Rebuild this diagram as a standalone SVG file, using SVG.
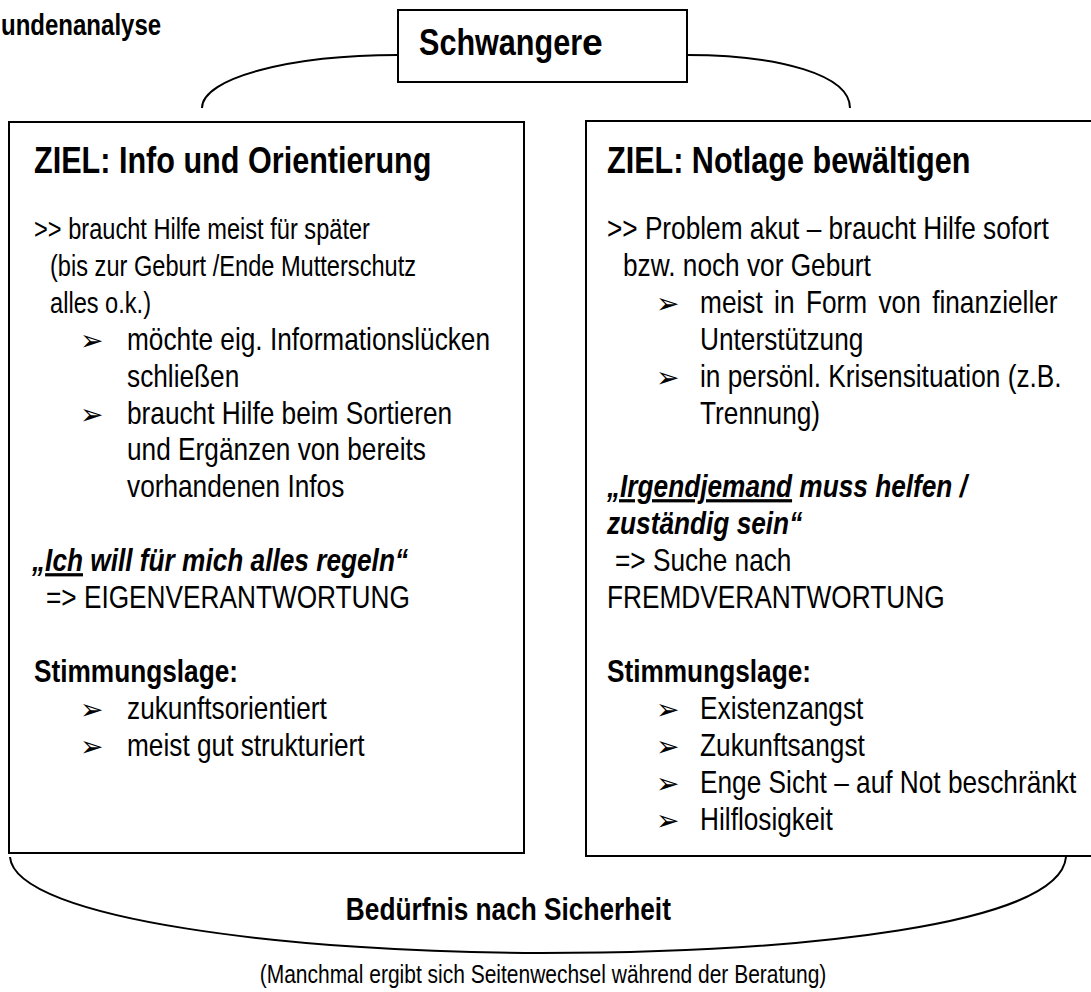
<svg xmlns="http://www.w3.org/2000/svg" width="1091" height="992" viewBox="0 0 1091 992">
<style>
.box{fill:#fff;stroke:#000;stroke-width:2}
.arc{fill:none;stroke:#000;stroke-width:2}
.n{font-family:"Liberation Sans",Arial,sans-serif;font-size:32px;fill:#000}
.s{font-size:28.8px}
.nb{font-family:"Liberation Sans",Arial,sans-serif;font-size:32px;font-weight:bold;fill:#000}
.t{font-family:"Liberation Sans",Arial,sans-serif;font-size:37.3px;font-weight:bold;fill:#000}
.i{font-style:italic}
.u{text-decoration:underline}
.bl{font-family:"DejaVu Sans",sans-serif;font-size:28px;fill:#000}
</style>
<rect width="1091" height="992" fill="#fff"/>
<g id="connectors">
<path class="arc" d="M202,108 C202,78 290,55 398,55"/>
<path class="arc" d="M687,55 C780,55 850,75 850,108"/>
<path class="arc" d="M10,857 C15,920 300,953 541,953 C800,953 1060,925 1066,857"/>
</g>
<g id="header">
<g transform="scale(0.82 1)"><text class="t" x="1.2" y="35" style="font-size:29.3px">undenanalyse</text></g>
</g>
<g id="node-schwangere">
<rect class="box" x="398" y="10" width="289" height="72"/>
<g transform="scale(0.82 1)"><text class="t" x="511" y="55">Schwanger</text></g>
<text x="582" y="55" style="font-family:'Liberation Sans',Arial,sans-serif;font-size:37.3px;font-weight:bold">e</text>
</g>
<g id="node-info">
<rect class="box" x="9" y="122" width="515" height="731"/>
<g transform="scale(0.82 1)">
<text class="t" x="41.5" y="173">ZIEL: Info und Orientierung</text>
<text class="n s" x="41.5" y="239">&gt;&gt; braucht Hilfe meist für später</text>
<text class="n s" x="61" y="276">(bis zur Geburt /Ende Mutterschutz</text>
<text class="n s" x="61" y="313">alles o.k.)</text>
<text class="n" x="154.9" y="350">möchte eig. Informationslücken</text>
<text class="n" x="154.9" y="387">schließen</text>
<text class="n" x="154.9" y="424">braucht Hilfe beim Sortieren</text>
<text class="n" x="154.9" y="460">und Ergänzen von bereits</text>
<text class="n" x="154.9" y="497">vorhandenen Infos</text>
<text class="nb i" x="39" y="571">„<tspan class="u">Ich</tspan> will für mich alles regeln“</text>
<text class="n" x="56.1" y="608">=&gt; EIGENVERANTWORTUNG</text>
<text class="nb" x="41.5" y="682">Stimmungslage:</text>
<text class="n" x="154.9" y="719">zukunftsorientiert</text>
<text class="n" x="154.9" y="756">meist gut strukturiert</text>
</g>
<text class="bl" x="80" y="350">➢</text>
<text class="bl" x="80" y="424">➢</text>
<text class="bl" x="80" y="719">➢</text>
<text class="bl" x="80" y="756">➢</text>
</g>
<g id="node-notlage">
<rect class="box" x="586" y="121" width="520" height="735"/>
<g transform="scale(0.82 1)">
<text class="t" x="740.2" y="173">ZIEL: Notlage bewältigen</text>
<text class="n" x="740.2" y="239">&gt;&gt; Problem akut – braucht Hilfe sofort</text>
<text class="n" x="759.8" y="276">bzw. noch vor Geburt</text>
<text class="n" x="853.7" y="313" word-spacing="5">meist in Form von finanzieller</text>
<text class="n" x="853.7" y="350">Unterstützung</text>
<text class="n" x="853.7" y="387">in persönl. Krisensituation (z.B.</text>
<text class="n" x="853.7" y="424">Trennung)</text>
<text class="nb i" x="740.2" y="497"><tspan class="u">„Irgendjemand</tspan> muss helfen /</text>
<text class="nb i" x="740.2" y="534">zuständig sein“</text>
<text class="n" x="750" y="571">=&gt; Suche nach</text>
<text class="n" x="740.2" y="608">FREMDVERANTWORTUNG</text>
<text class="nb" x="740.2" y="682">Stimmungslage:</text>
<text class="n" x="853.7" y="719">Existenzangst</text>
<text class="n" x="853.7" y="756">Zukunftsangst</text>
<text class="n" x="853.7" y="793">Enge Sicht – auf Not beschränkt</text>
<text class="n" x="853.7" y="830">Hilflosigkeit</text>
</g>
<text class="bl" x="656" y="313">➢</text>
<text class="bl" x="656" y="387">➢</text>
<text class="bl" x="656" y="719">➢</text>
<text class="bl" x="656" y="756">➢</text>
<text class="bl" x="656" y="793">➢</text>
<text class="bl" x="656" y="830">➢</text>
</g>
<g id="footer">
<g transform="scale(0.82 1)">
<text class="nb" x="620" y="920" text-anchor="middle">Bedürfnis nach Sicherheit</text>
<text class="n" x="662.2" y="983" text-anchor="middle" style="font-size:25.6px">(Manchmal ergibt sich Seitenwechsel während der Beratung)</text>
</g>
</g>
</svg>
